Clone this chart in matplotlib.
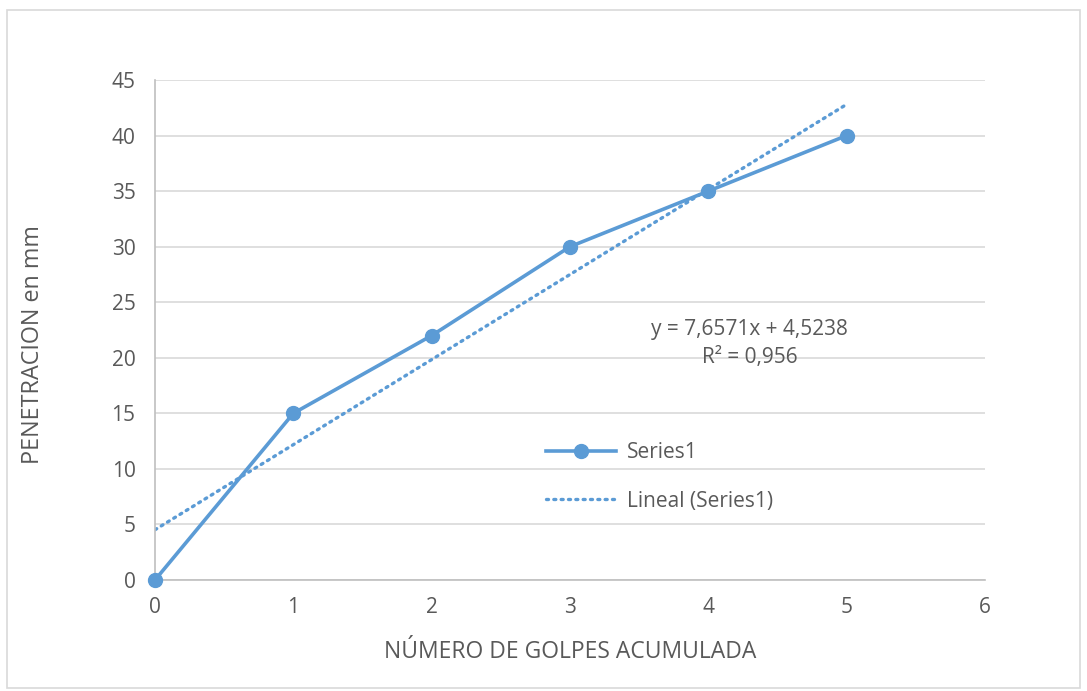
import numpy as np
import matplotlib.pyplot as plt
from matplotlib.patches import Rectangle

# golpes acumulados vs penetracion (mm)
golpes = [0, 1, 2, 3, 4, 5]
penetracion = [0, 15, 22, 30, 35, 40]

# ajuste lineal (linea de tendencia)
pend, inter = np.polyfit(golpes, penetracion, 1)
pred = np.polyval([pend, inter], golpes)
r2 = 1 - np.sum((np.array(penetracion) - pred) ** 2) / np.sum((np.array(penetracion) - np.mean(penetracion)) ** 2)

azul = '#5B9BD5'
gris = '#595959'
plt.rcParams['font.family'] = ['Open Sans', 'DejaVu Sans']

fig = plt.figure(figsize=(10.87, 6.91), dpi=100)
fig.patches.append(Rectangle((7 / 1087, 3 / 691), 1073 / 1087, 678 / 691, transform=fig.transFigure,
                             fill=False, edgecolor='#D9D9D9', linewidth=1.2))
ax = fig.add_axes([155 / 1087, 111 / 691, 830 / 1087, 500 / 691])

ax.plot(golpes, penetracion, color=azul, linewidth=2.6, marker='o', markersize=10,
        label='Series1', zorder=3, clip_on=False)
xt = np.array([golpes[0], golpes[-1]])
ax.plot(xt, pend * xt + inter, color=azul, linewidth=2.4, linestyle=(0, (0.6, 1.6)),
        dash_capstyle='round', label='Lineal (Series1)', zorder=2)

ax.set_xlim(0, 6)
ax.set_ylim(0, 45)
ax.set_xticks(range(0, 7))
ax.set_yticks(range(0, 50, 5))
ax.grid(axis='y', color='#D9D9D9', linewidth=1.2)
ax.set_axisbelow(True)
for s in ['top', 'right']:
    ax.spines[s].set_visible(False)
for s in ['left', 'bottom']:
    ax.spines[s].set_color('#BFBFBF')
    ax.spines[s].set_linewidth(1.2)
ax.tick_params(length=0, labelsize=15, colors=gris, pad=14)
ax.tick_params(axis='x', pad=12)

ax.set_xlabel('NÚMERO DE GOLPES ACUMULADA', fontsize=16.5, color=gris, labelpad=16)
ax.set_ylabel('PENETRACION en mm', fontsize=16.8, color=gris)
ax.yaxis.set_label_coords(-0.132, 0.47)

txt = f'y = {pend:.4f}x + {inter:.4f}\nR² = {r2:.3f}'.replace('.', ',')
ax.text(4.3, 21.3, txt, ha='center', va='center', fontsize=15, color=gris, linespacing=1.45)

ax.legend(loc='center left', bbox_to_anchor=(0.448, 0.206), frameon=False, fontsize=15,
          labelcolor=gris, handlelength=3.4, labelspacing=1.3, handletextpad=0.5)

fig.savefig('out.png', dpi=100)
